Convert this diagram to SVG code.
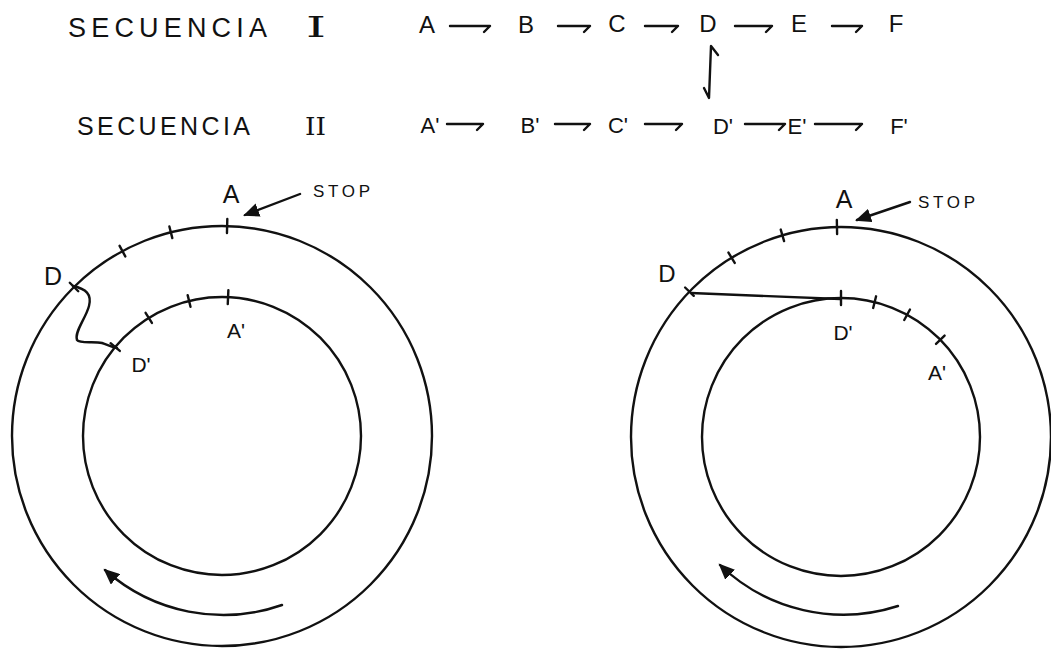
<svg xmlns="http://www.w3.org/2000/svg" width="1051" height="649" viewBox="0 0 1051 649">
  <style>
    .ln{fill:none;stroke:#111;stroke-width:2.4;stroke-linecap:round;stroke-linejoin:round}
    .tk{fill:none;stroke:#111;stroke-width:2.4;stroke-linecap:round}
    .t{font-family:"Liberation Sans",Arial,sans-serif;fill:#111}
    .s{font-family:"DejaVu Serif","Liberation Serif",serif;fill:#111}
  </style>
  <defs>
    <marker id="ah" markerUnits="userSpaceOnUse" markerWidth="18" markerHeight="14" refX="14" refY="7" orient="auto">
      <path d="M0,0 L16,7 L0,14 Z" fill="#111"/>
    </marker>
  </defs>
  <rect width="1051" height="649" fill="#fff"/>

  <g id="header">
    <text class="t" x="68" y="37" font-size="27" textLength="199" lengthAdjust="spacing">SECUENCIA</text>
    <text class="s" x="306" y="37" font-size="27" textLength="20" lengthAdjust="spacingAndGlyphs">I</text>
    <text class="t" x="77" y="135" font-size="25" textLength="173" lengthAdjust="spacing">SECUENCIA</text>
    <text class="s" x="305" y="135" font-size="25" textLength="21" lengthAdjust="spacingAndGlyphs">II</text>
  </g>

  <g id="seq1" class="t" font-size="24" text-anchor="middle">
    <text x="427" y="33">A</text>
    <text x="526" y="33">B</text>
    <text x="617" y="32">C</text>
    <text x="708" y="32">D</text>
    <text x="799" y="32">E</text>
    <text x="896" y="32">F</text>
  </g>
  <g id="seq2" class="t" font-size="22" text-anchor="middle">
    <text x="430" y="133">A'</text>
    <text x="530" y="133">B'</text>
    <text x="618" y="133">C'</text>
    <text x="723" y="134">D'</text>
    <text x="797" y="134">E'</text>
    <text x="899" y="134">F'</text>
  </g>

  <g id="connectors">
    <path class="ln" d="M450,26 L490,26 L484,32"/>
    <path class="ln" d="M558,26 L590,26 L584,32"/>
    <path class="ln" d="M645,26 L678,26 L672,32"/>
    <path class="ln" d="M735,26 L772,26 L766,32"/>
    <path class="ln" d="M832,26 L862,26 L856,32"/>
    <path class="ln" d="M447,124 L483,124 L477,130"/>
    <path class="ln" d="M555,124 L590,124 L584,130"/>
    <path class="ln" d="M645,124 L682,124 L676,130"/>
    <path class="ln" d="M745,124 L785,124 L779,130"/>
    <path class="ln" d="M815,124 L862,124 L856,130"/>
    <path class="ln" d="M718,55 L711,46 L709,98 L704,88"/>
    <path class="ln" d="M73,286 C86,289 92,294 89,306 C86,318 74,332 77,340 C80,344 94,341 102,343 C108,345 112,347 117,348"/>
    <path class="ln" d="M691,293 L840,299"/>
    <path class="ln" d="M300,194 L245,215" marker-end="url(#ah)"/>
    <path class="ln" d="M910,202 L857,220" marker-end="url(#ah)"/>
    <path class="ln" d="M282,605 A178,178 0 0 1 105,570" marker-end="url(#ah)"/>
    <path class="ln" d="M898,606 A178,178 0 0 1 720,565" marker-end="url(#ah)"/>
  </g>

  <g id="left-ring">
    <circle class="ln" cx="222" cy="436" r="210"/>
    <circle class="ln" cx="222" cy="436" r="139"/>
    <g class="tk">
      <line x1="222" y1="219" x2="222" y2="233" transform="rotate(1.4 222 436)"/>
      <line x1="222" y1="220" x2="222" y2="232" transform="rotate(-14.1 222 436)"/>
      <line x1="222" y1="220" x2="222" y2="232" transform="rotate(-28.3 222 436)"/>
      <line x1="222" y1="220" x2="222" y2="232" transform="rotate(-44.8 222 436)"/>
      <line x1="222" y1="290" x2="222" y2="304" transform="rotate(2.5 222 436)"/>
      <line x1="222" y1="291" x2="222" y2="303" transform="rotate(-13.7 222 436)"/>
      <line x1="222" y1="291" x2="222" y2="303" transform="rotate(-31.8 222 436)"/>
      <line x1="222" y1="291" x2="222" y2="303" transform="rotate(-50.2 222 436)"/>
    </g>
    <g class="t">
      <text x="231" y="203" font-size="25" text-anchor="middle">A</text>
      <text x="313" y="197" font-size="17" textLength="57" lengthAdjust="spacing">STOP</text>
      <text x="53" y="285" font-size="25" text-anchor="middle">D</text>
      <text x="236" y="338" font-size="21" text-anchor="middle">A'</text>
      <text x="141" y="372" font-size="21" text-anchor="middle">D'</text>
    </g>
  </g>

  <g id="right-ring">
    <circle class="ln" cx="841" cy="437" r="210"/>
    <circle class="ln" cx="841" cy="437" r="139"/>
    <g class="tk">
      <line x1="841" y1="220" x2="841" y2="234" transform="rotate(-1.1 841 437)"/>
      <line x1="841" y1="221" x2="841" y2="233" transform="rotate(-16.2 841 437)"/>
      <line x1="841" y1="221" x2="841" y2="233" transform="rotate(-31.4 841 437)"/>
      <line x1="841" y1="221" x2="841" y2="233" transform="rotate(-46.2 841 437)"/>
      <line x1="841" y1="291" x2="841" y2="305" transform="rotate(0 841 437)"/>
      <line x1="841" y1="292" x2="841" y2="304" transform="rotate(14 841 437)"/>
      <line x1="841" y1="292" x2="841" y2="304" transform="rotate(28.4 841 437)"/>
      <line x1="841" y1="292" x2="841" y2="304" transform="rotate(45.6 841 437)"/>
    </g>
    <g class="t">
      <text x="844" y="208" font-size="25" text-anchor="middle">A</text>
      <text x="918" y="208" font-size="17" textLength="57" lengthAdjust="spacing">STOP</text>
      <text x="667" y="282" font-size="24" text-anchor="middle">D</text>
      <text x="843" y="340" font-size="21" text-anchor="middle">D'</text>
      <text x="937" y="380" font-size="21" text-anchor="middle">A'</text>
    </g>
  </g>
</svg>
